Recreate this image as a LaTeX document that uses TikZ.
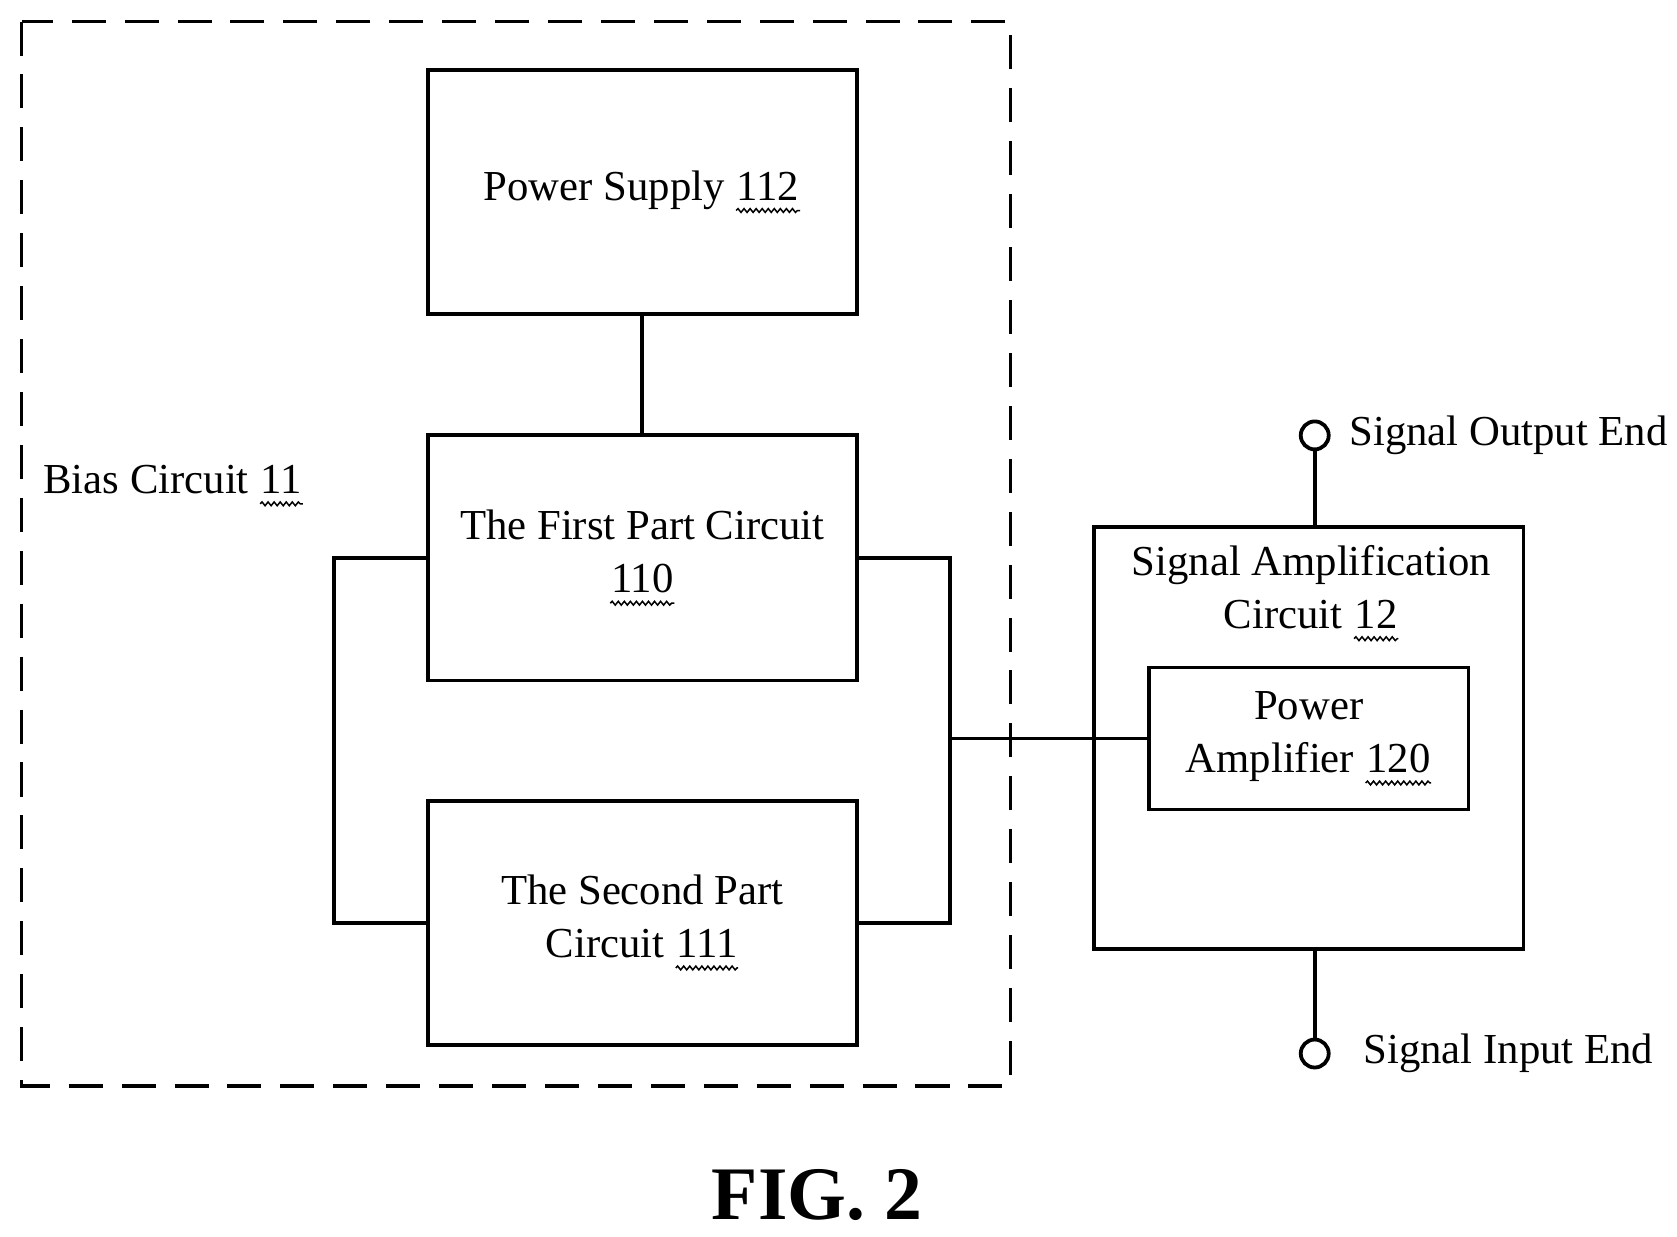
\documentclass[tikz,border=0pt]{standalone}
\usepackage{fontspec}
\setmainfont{Liberation Serif}
\usetikzlibrary{positioning, decorations.pathmorphing}
\tikzset{
  blk/.style = {shape=rectangle, draw, line width=1pt, align=center,
    font=\fontsize{11.3}{14}\selectfont},
  lbl/.style = {font=\fontsize{11.3}{14}\selectfont, align=center},
  term/.style = {shape=circle, draw, line width=1pt, minimum size=0.26cm, inner sep=0pt},
  wire/.style = {line width=1pt}
}
\newcommand{\refno}[1]{\tikz[baseline=(r.base)]{\node[inner sep=0pt, draw=none, shape=rectangle,
    minimum width=0pt, minimum height=0pt] (r) {#1};
  \draw[line width=0.4pt, decorate, decoration={snake, amplitude=0.5pt, segment length=1.6pt}]
    ([yshift=-2.5pt]r.south west) -- ([yshift=-2.5pt]r.south east);}}
\begin{document}
\begin{tikzpicture}[x=0.01cm, y=-0.01cm]
  \useasboundingbox (0,0) rectangle (1560,1150);
  % bias circuit
  \draw[line width=1pt, dash pattern=on 9pt off 5pt] (20,20) rectangle (940,1010);
  \node[lbl, anchor=west] (bias) at (28,452) {Bias Circuit \refno{11}};
  \node[blk, minimum width=3.99cm, minimum height=2.27cm] (ps) at (597.5,178.5) {Power Supply \refno{112}};
  \node[blk, minimum width=3.99cm, minimum height=2.28cm] (first) at (597.5,519) {The First Part Circuit\\\refno{110}};
  \node[blk, minimum width=3.99cm, minimum height=2.27cm] (second) at (597.5,858.5) {The Second Part\\Circuit \refno{111}};
  % signal amplification
  \node[blk, minimum width=3.99cm, minimum height=3.93cm] (amp) at (1217.5,686.5) {};
  \node[lbl] (amptext) at (1220,552) {Signal Amplification\\Circuit \refno{12}};
  \node[blk, minimum width=2.97cm, minimum height=1.32cm] (pa) at (1217.5,687) {Power\\Amplifier \refno{120}};
  \node[term] (out) at (1223,405) {};
  \node[term] (in) at (1223,980) {};
  \node[lbl, anchor=west] (outlbl) at (1243,405) {Signal Output End};
  \node[lbl, anchor=west] (inlbl) at (1256,980) {Signal Input End};
  \coordinate (lj) at (311,687);
  \coordinate (rj) at (884,687);
  \draw[wire] (ps) -- (first);
  \draw[wire] (first.west) -| (lj) |- (second.west);
  \draw[wire] (first.east) -| (rj) |- (second.east);
  \draw[wire] (rj) -- (pa.west);
  \draw[wire] (out) -- (out |- amp.north);
  \draw[wire] (in) -- (in |- amp.south);
  \node[font=\bfseries\fontsize{20}{24}\selectfont] (fig) at (760,1112) {FIG. 2};
\end{tikzpicture}
\end{document}
